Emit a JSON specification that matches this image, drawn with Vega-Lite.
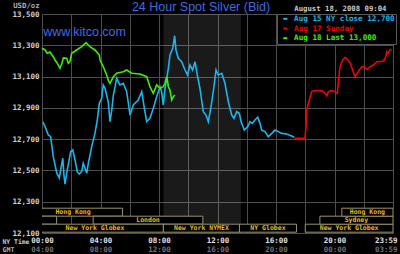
{
  "$schema": "https://vega.github.io/schema/vega-lite/v6.json",
  "width": 351,
  "height": 219,
  "autosize": {"type": "none"},
  "padding": {"left": 42, "top": 14, "right": 7, "bottom": 21},
  "background": "#000000",
  "config": {"view": {"stroke": null}},
  "title": {
    "text": "24 Hour Spot Silver (Bid)",
    "frame": "group",
    "anchor": "middle",
    "orient": "top",
    "offset": -22,
    "baseline": "alphabetic",
    "dx": -16.5,
    "font": "Liberation Sans",
    "fontSize": 12.5,
    "fontWeight": "normal",
    "color": "#4169e1"
  },
  "datasets": {
    "floor": [{"name": "NYMEX floor", "start": 8.3, "end": 13.6}],
    "sessions": [
      {"market": "Hong Kong", "start": -1.26, "end": 5.5, "lane": 2},
      {"market": "Sydney", "start": -3, "end": 1, "lane": 1},
      {"market": "London", "start": 3.5, "end": 11, "lane": 1},
      {"market": "New York Globex", "start": -1.06, "end": 8.3, "lane": 0},
      {"market": "New York NYMEX", "start": 8.3, "end": 13.5, "lane": 0},
      {"market": "NY Globex", "start": 13.5, "end": 17.4, "lane": 0},
      {"market": "New York Globex", "start": 18, "end": 24, "lane": 0},
      {"market": "Sydney", "start": 19, "end": 24, "lane": 1},
      {"market": "Hong Kong", "start": 20.5, "end": 24, "lane": 2}
    ],
    "notes": [{"note": "www.kitco.com", "h": 0.09, "v": 13361}],
    "prices": [
      {"s": "Aug 15 NY close 12,700", "h": 0.05, "v": 12811},
      {"s": "Aug 15 NY close 12,700", "h": 0.21, "v": 12780},
      {"s": "Aug 15 NY close 12,700", "h": 0.43, "v": 12727},
      {"s": "Aug 15 NY close 12,700", "h": 0.59, "v": 12716},
      {"s": "Aug 15 NY close 12,700", "h": 0.77, "v": 12588},
      {"s": "Aug 15 NY close 12,700", "h": 1.01, "v": 12484},
      {"s": "Aug 15 NY close 12,700", "h": 1.18, "v": 12452},
      {"s": "Aug 15 NY close 12,700", "h": 1.28, "v": 12503},
      {"s": "Aug 15 NY close 12,700", "h": 1.42, "v": 12578},
      {"s": "Aug 15 NY close 12,700", "h": 1.5, "v": 12471},
      {"s": "Aug 15 NY close 12,700", "h": 1.57, "v": 12413},
      {"s": "Aug 15 NY close 12,700", "h": 1.73, "v": 12503},
      {"s": "Aug 15 NY close 12,700", "h": 1.96, "v": 12620},
      {"s": "Aug 15 NY close 12,700", "h": 2.1, "v": 12631},
      {"s": "Aug 15 NY close 12,700", "h": 2.26, "v": 12567},
      {"s": "Aug 15 NY close 12,700", "h": 2.41, "v": 12492},
      {"s": "Aug 15 NY close 12,700", "h": 2.55, "v": 12477},
      {"s": "Aug 15 NY close 12,700", "h": 2.71, "v": 12492},
      {"s": "Aug 15 NY close 12,700", "h": 2.82, "v": 12546},
      {"s": "Aug 15 NY close 12,700", "h": 2.94, "v": 12514},
      {"s": "Aug 15 NY close 12,700", "h": 3.06, "v": 12482},
      {"s": "Aug 15 NY close 12,700", "h": 3.17, "v": 12546},
      {"s": "Aug 15 NY close 12,700", "h": 3.4, "v": 12652},
      {"s": "Aug 15 NY close 12,700", "h": 3.62, "v": 12737},
      {"s": "Aug 15 NY close 12,700", "h": 3.78, "v": 12822},
      {"s": "Aug 15 NY close 12,700", "h": 3.92, "v": 12929},
      {"s": "Aug 15 NY close 12,700", "h": 4.08, "v": 12961},
      {"s": "Aug 15 NY close 12,700", "h": 4.19, "v": 13046},
      {"s": "Aug 15 NY close 12,700", "h": 4.31, "v": 13025},
      {"s": "Aug 15 NY close 12,700", "h": 4.53, "v": 12939},
      {"s": "Aug 15 NY close 12,700", "h": 4.65, "v": 12812},
      {"s": "Aug 15 NY close 12,700", "h": 4.77, "v": 12886},
      {"s": "Aug 15 NY close 12,700", "h": 4.88, "v": 12982},
      {"s": "Aug 15 NY close 12,700", "h": 5.11, "v": 13089},
      {"s": "Aug 15 NY close 12,700", "h": 5.33, "v": 13046},
      {"s": "Aug 15 NY close 12,700", "h": 5.56, "v": 13057},
      {"s": "Aug 15 NY close 12,700", "h": 5.79, "v": 13003},
      {"s": "Aug 15 NY close 12,700", "h": 6.02, "v": 12854},
      {"s": "Aug 15 NY close 12,700", "h": 6.24, "v": 12918},
      {"s": "Aug 15 NY close 12,700", "h": 6.58, "v": 12950},
      {"s": "Aug 15 NY close 12,700", "h": 6.82, "v": 13003},
      {"s": "Aug 15 NY close 12,700", "h": 7.0, "v": 12897},
      {"s": "Aug 15 NY close 12,700", "h": 7.16, "v": 12812},
      {"s": "Aug 15 NY close 12,700", "h": 7.38, "v": 12833},
      {"s": "Aug 15 NY close 12,700", "h": 7.61, "v": 12897},
      {"s": "Aug 15 NY close 12,700", "h": 7.84, "v": 12971},
      {"s": "Aug 15 NY close 12,700", "h": 8.07, "v": 13035},
      {"s": "Aug 15 NY close 12,700", "h": 8.18, "v": 13003},
      {"s": "Aug 15 NY close 12,700", "h": 8.29, "v": 12918},
      {"s": "Aug 15 NY close 12,700", "h": 8.41, "v": 13025},
      {"s": "Aug 15 NY close 12,700", "h": 8.53, "v": 13089},
      {"s": "Aug 15 NY close 12,700", "h": 8.64, "v": 13153},
      {"s": "Aug 15 NY close 12,700", "h": 8.75, "v": 13238},
      {"s": "Aug 15 NY close 12,700", "h": 8.94, "v": 13281},
      {"s": "Aug 15 NY close 12,700", "h": 9.07, "v": 13361},
      {"s": "Aug 15 NY close 12,700", "h": 9.16, "v": 13270},
      {"s": "Aug 15 NY close 12,700", "h": 9.32, "v": 13217},
      {"s": "Aug 15 NY close 12,700", "h": 9.55, "v": 13195},
      {"s": "Aug 15 NY close 12,700", "h": 9.78, "v": 13142},
      {"s": "Aug 15 NY close 12,700", "h": 9.94, "v": 13110},
      {"s": "Aug 15 NY close 12,700", "h": 10.12, "v": 13174},
      {"s": "Aug 15 NY close 12,700", "h": 10.3, "v": 13142},
      {"s": "Aug 15 NY close 12,700", "h": 10.46, "v": 13195},
      {"s": "Aug 15 NY close 12,700", "h": 10.62, "v": 13110},
      {"s": "Aug 15 NY close 12,700", "h": 10.8, "v": 13025},
      {"s": "Aug 15 NY close 12,700", "h": 11.03, "v": 12875},
      {"s": "Aug 15 NY close 12,700", "h": 11.21, "v": 12854},
      {"s": "Aug 15 NY close 12,700", "h": 11.37, "v": 12812},
      {"s": "Aug 15 NY close 12,700", "h": 11.54, "v": 12897},
      {"s": "Aug 15 NY close 12,700", "h": 11.71, "v": 13003},
      {"s": "Aug 15 NY close 12,700", "h": 11.9, "v": 13142},
      {"s": "Aug 15 NY close 12,700", "h": 12.05, "v": 13110},
      {"s": "Aug 15 NY close 12,700", "h": 12.29, "v": 13121},
      {"s": "Aug 15 NY close 12,700", "h": 12.51, "v": 13057},
      {"s": "Aug 15 NY close 12,700", "h": 12.74, "v": 12939},
      {"s": "Aug 15 NY close 12,700", "h": 12.97, "v": 12854},
      {"s": "Aug 15 NY close 12,700", "h": 13.13, "v": 12833},
      {"s": "Aug 15 NY close 12,700", "h": 13.31, "v": 12875},
      {"s": "Aug 15 NY close 12,700", "h": 13.49, "v": 12865},
      {"s": "Aug 15 NY close 12,700", "h": 13.61, "v": 12812},
      {"s": "Aug 15 NY close 12,700", "h": 13.83, "v": 12758},
      {"s": "Aug 15 NY close 12,700", "h": 14.07, "v": 12780},
      {"s": "Aug 15 NY close 12,700", "h": 14.22, "v": 12812},
      {"s": "Aug 15 NY close 12,700", "h": 14.38, "v": 12801},
      {"s": "Aug 15 NY close 12,700", "h": 14.56, "v": 12822},
      {"s": "Aug 15 NY close 12,700", "h": 14.75, "v": 12840},
      {"s": "Aug 15 NY close 12,700", "h": 14.91, "v": 12801},
      {"s": "Aug 15 NY close 12,700", "h": 15.02, "v": 12758},
      {"s": "Aug 15 NY close 12,700", "h": 15.25, "v": 12748},
      {"s": "Aug 15 NY close 12,700", "h": 15.47, "v": 12716},
      {"s": "Aug 15 NY close 12,700", "h": 15.71, "v": 12737},
      {"s": "Aug 15 NY close 12,700", "h": 15.93, "v": 12758},
      {"s": "Aug 15 NY close 12,700", "h": 16.16, "v": 12748},
      {"s": "Aug 15 NY close 12,700", "h": 16.39, "v": 12737},
      {"s": "Aug 15 NY close 12,700", "h": 16.73, "v": 12733},
      {"s": "Aug 15 NY close 12,700", "h": 17.07, "v": 12720},
      {"s": "Aug 15 NY close 12,700", "h": 17.25, "v": 12712},
      {"s": "Aug 17 Sunday", "h": 17.25, "v": 12705},
      {"s": "Aug 17 Sunday", "h": 17.98, "v": 12705},
      {"s": "Aug 17 Sunday", "h": 18.05, "v": 12780},
      {"s": "Aug 17 Sunday", "h": 18.1, "v": 12886},
      {"s": "Aug 17 Sunday", "h": 18.28, "v": 12950},
      {"s": "Aug 17 Sunday", "h": 18.44, "v": 13003},
      {"s": "Aug 17 Sunday", "h": 18.67, "v": 13010},
      {"s": "Aug 17 Sunday", "h": 19.12, "v": 13010},
      {"s": "Aug 17 Sunday", "h": 19.35, "v": 12993},
      {"s": "Aug 17 Sunday", "h": 19.47, "v": 12976},
      {"s": "Aug 17 Sunday", "h": 19.58, "v": 13003},
      {"s": "Aug 17 Sunday", "h": 19.81, "v": 13010},
      {"s": "Aug 17 Sunday", "h": 20.03, "v": 13003},
      {"s": "Aug 17 Sunday", "h": 20.19, "v": 12993},
      {"s": "Aug 17 Sunday", "h": 20.29, "v": 13089},
      {"s": "Aug 17 Sunday", "h": 20.38, "v": 13163},
      {"s": "Aug 17 Sunday", "h": 20.56, "v": 13206},
      {"s": "Aug 17 Sunday", "h": 20.72, "v": 13223},
      {"s": "Aug 17 Sunday", "h": 20.88, "v": 13210},
      {"s": "Aug 17 Sunday", "h": 21.06, "v": 13189},
      {"s": "Aug 17 Sunday", "h": 21.24, "v": 13142},
      {"s": "Aug 17 Sunday", "h": 21.4, "v": 13099},
      {"s": "Aug 17 Sunday", "h": 21.52, "v": 13117},
      {"s": "Aug 17 Sunday", "h": 21.7, "v": 13142},
      {"s": "Aug 17 Sunday", "h": 21.86, "v": 13163},
      {"s": "Aug 17 Sunday", "h": 22.02, "v": 13163},
      {"s": "Aug 17 Sunday", "h": 22.2, "v": 13146},
      {"s": "Aug 17 Sunday", "h": 22.43, "v": 13163},
      {"s": "Aug 17 Sunday", "h": 22.65, "v": 13174},
      {"s": "Aug 17 Sunday", "h": 22.89, "v": 13195},
      {"s": "Aug 17 Sunday", "h": 23.16, "v": 13195},
      {"s": "Aug 17 Sunday", "h": 23.38, "v": 13202},
      {"s": "Aug 17 Sunday", "h": 23.5, "v": 13227},
      {"s": "Aug 17 Sunday", "h": 23.57, "v": 13259},
      {"s": "Aug 17 Sunday", "h": 23.68, "v": 13249},
      {"s": "Aug 17 Sunday", "h": 23.79, "v": 13270},
      {"s": "Aug 17 Sunday", "h": 23.91, "v": 13274},
      {"s": "Aug 18 Last 13,000", "h": 0.0, "v": 13281},
      {"s": "Aug 18 Last 13,000", "h": 0.21, "v": 13270},
      {"s": "Aug 18 Last 13,000", "h": 0.36, "v": 13249},
      {"s": "Aug 18 Last 13,000", "h": 0.55, "v": 13257},
      {"s": "Aug 18 Last 13,000", "h": 0.77, "v": 13227},
      {"s": "Aug 18 Last 13,000", "h": 0.89, "v": 13206},
      {"s": "Aug 18 Last 13,000", "h": 1.03, "v": 13187},
      {"s": "Aug 18 Last 13,000", "h": 1.23, "v": 13153},
      {"s": "Aug 18 Last 13,000", "h": 1.35, "v": 13180},
      {"s": "Aug 18 Last 13,000", "h": 1.46, "v": 13219},
      {"s": "Aug 18 Last 13,000", "h": 1.69, "v": 13217},
      {"s": "Aug 18 Last 13,000", "h": 1.8, "v": 13185},
      {"s": "Aug 18 Last 13,000", "h": 1.91, "v": 13195},
      {"s": "Aug 18 Last 13,000", "h": 2.03, "v": 13249},
      {"s": "Aug 18 Last 13,000", "h": 2.37, "v": 13270},
      {"s": "Aug 18 Last 13,000", "h": 2.71, "v": 13291},
      {"s": "Aug 18 Last 13,000", "h": 3.01, "v": 13317},
      {"s": "Aug 18 Last 13,000", "h": 3.28, "v": 13291},
      {"s": "Aug 18 Last 13,000", "h": 3.62, "v": 13270},
      {"s": "Aug 18 Last 13,000", "h": 3.92, "v": 13238},
      {"s": "Aug 18 Last 13,000", "h": 3.97, "v": 13206},
      {"s": "Aug 18 Last 13,000", "h": 4.19, "v": 13163},
      {"s": "Aug 18 Last 13,000", "h": 4.42, "v": 13110},
      {"s": "Aug 18 Last 13,000", "h": 4.55, "v": 13072},
      {"s": "Aug 18 Last 13,000", "h": 4.65, "v": 13057},
      {"s": "Aug 18 Last 13,000", "h": 4.88, "v": 13099},
      {"s": "Aug 18 Last 13,000", "h": 5.11, "v": 13121},
      {"s": "Aug 18 Last 13,000", "h": 5.56, "v": 13131},
      {"s": "Aug 18 Last 13,000", "h": 5.79, "v": 13142},
      {"s": "Aug 18 Last 13,000", "h": 6.13, "v": 13121},
      {"s": "Aug 18 Last 13,000", "h": 6.7, "v": 13116},
      {"s": "Aug 18 Last 13,000", "h": 7.16, "v": 13099},
      {"s": "Aug 18 Last 13,000", "h": 7.38, "v": 13035},
      {"s": "Aug 18 Last 13,000", "h": 7.61, "v": 12993},
      {"s": "Aug 18 Last 13,000", "h": 7.84, "v": 13046},
      {"s": "Aug 18 Last 13,000", "h": 8.07, "v": 13025},
      {"s": "Aug 18 Last 13,000", "h": 8.29, "v": 13035},
      {"s": "Aug 18 Last 13,000", "h": 8.41, "v": 13057},
      {"s": "Aug 18 Last 13,000", "h": 8.53, "v": 13099},
      {"s": "Aug 18 Last 13,000", "h": 8.64, "v": 13035},
      {"s": "Aug 18 Last 13,000", "h": 8.75, "v": 13014},
      {"s": "Aug 18 Last 13,000", "h": 8.87, "v": 12950},
      {"s": "Aug 18 Last 13,000", "h": 8.98, "v": 12971},
      {"s": "Aug 18 Last 13,000", "h": 9.09, "v": 12982}
    ]
  },
  "resolve": {
    "scale": {"y": "independent"},
    "axis": {"x": "independent", "y": "independent"}
  },
  "layer": [
    {
      "data": {"name": "floor"},
      "mark": {"type": "rect", "fill": "#ffffff", "fillOpacity": 0.1},
      "encoding": {
        "x": {
          "field": "start",
          "type": "quantitative",
          "scale": {"domain": [0, 24], "nice": false, "zero": false},
          "axis": {
            "orient": "bottom",
            "values": [0, 2, 4, 6, 8, 10, 12, 14, 16, 18, 20, 22, 24],
            "grid": true,
            "gridColor": "#4d4d4d",
            "gridWidth": 1,
            "domain": false,
            "ticks": false,
            "labelExpr": "datum.value % 4 != 0 ? '' : datum.value == 24 ? '23:59' : (datum.value < 10 ? '0' : '') + datum.value + ':00'",
            "labelFont": "DejaVu Sans Mono",
            "labelFontSize": 7.5,
            "labelFontWeight": "bold",
            "labelColor": "#e0e0e0",
            "labelPadding": 3,
            "labelFlush": false,
            "labelOverlap": false,
            "labelBound": false,
            "labelAlign": {"condition": {"test": "datum.value == 24", "value": "right"}, "value": "center"},
            "labelOffset": {"condition": {"test": "datum.value == 24", "value": 4}, "value": 0},
            "title": "NY Time",
            "titleX": -40,
            "titleY": 10.3,
            "titleAlign": "left",
            "titleAnchor": "start",
            "titleBaseline": "alphabetic",
            "titleFont": "DejaVu Sans Mono",
            "titleFontSize": 6.4,
            "titleFontWeight": "bold",
            "titleColor": "#c8c8c8"
          }
        },
        "x2": {"field": "end"}
      }
    },
    {
      "data": {"name": "sessions"},
      "transform": [{"calculate": "datum.lane + 1", "as": "laneTop"}],
      "mark": {"type": "rect", "fill": "#000000", "stroke": "#9a9468", "strokeWidth": 1, "clip": true},
      "encoding": {
        "x": {
          "field": "start",
          "type": "quantitative",
          "scale": {"domain": [0, 24], "nice": false, "zero": false},
          "axis": {
            "orient": "bottom",
            "offset": 9,
            "values": [0, 4, 8, 12, 16, 20, 24],
            "grid": false,
            "domain": false,
            "ticks": false,
            "labelExpr": "datum.value == 24 ? '03:59' : (((datum.value + 4) % 24) < 10 ? '0' : '') + ((datum.value + 4) % 24) + ':00'",
            "labelFont": "DejaVu Sans Mono",
            "labelFontSize": 7.5,
            "labelFontWeight": "bold",
            "labelColor": "#707070",
            "labelPadding": 3.5,
            "labelFlush": false,
            "labelOverlap": false,
            "labelBound": false,
            "labelAlign": {"condition": {"test": "datum.value == 24", "value": "right"}, "value": "center"},
            "labelOffset": {"condition": {"test": "datum.value == 24", "value": 4}, "value": 0},
            "title": "GMT",
            "titleX": -40,
            "titleY": 9.7,
            "titleAlign": "left",
            "titleAnchor": "start",
            "titleBaseline": "alphabetic",
            "titleFont": "DejaVu Sans Mono",
            "titleFontSize": 6.6,
            "titleFontWeight": "bold",
            "titleColor": "#b0b0b0"
          }
        },
        "x2": {"field": "end"},
        "y": {
          "field": "lane",
          "type": "quantitative",
          "scale": {"domain": [-0.1, 27.275], "nice": false, "zero": false},
          "axis": null
        },
        "y2": {"field": "laneTop"}
      }
    },
    {
      "data": {"name": "sessions"},
      "transform": [
        {"calculate": "(datum.start + datum.end) / 2", "as": "mid"},
        {"calculate": "datum.lane + 0.5", "as": "laneMid"}
      ],
      "mark": {
        "type": "text",
        "font": "DejaVu Sans Mono",
        "fontSize": 6.5,
        "fontWeight": "bold",
        "fill": "#e8b820",
        "align": "center",
        "baseline": "middle",
        "clip": true
      },
      "encoding": {
        "x": {
          "field": "mid",
          "type": "quantitative",
          "scale": {"domain": [0, 24], "nice": false, "zero": false},
          "axis": null
        },
        "y": {
          "field": "laneMid",
          "type": "quantitative",
          "scale": {"domain": [-0.1, 27.275], "nice": false, "zero": false},
          "axis": null
        },
        "text": {"field": "market"}
      }
    },
    {
      "data": {"name": "prices"},
      "mark": {"type": "line", "strokeWidth": 1.6},
      "encoding": {
        "x": {
          "field": "h",
          "type": "quantitative",
          "scale": {"domain": [0, 24], "nice": false, "zero": false},
          "axis": {
            "orient": "top",
            "labels": false,
            "ticks": false,
            "domain": false,
            "grid": false,
            "title": "August 18, 2008 09:04",
            "titleX": 344,
            "titleY": -3.3,
            "titleAlign": "right",
            "titleAnchor": "end",
            "titleBaseline": "alphabetic",
            "titleFont": "DejaVu Sans Mono",
            "titleFontSize": 7.3,
            "titleFontWeight": "bold",
            "titleColor": "#c8c8c8"
          }
        },
        "y": {
          "field": "v",
          "type": "quantitative",
          "scale": {"domain": [12100, 13500], "nice": false, "zero": false},
          "axis": {
            "values": [12100, 12300, 12500, 12700, 12900, 13100, 13300, 13500],
            "format": ",d",
            "grid": true,
            "gridColor": "#4d4d4d",
            "gridWidth": 1,
            "domain": false,
            "ticks": false,
            "labelFont": "DejaVu Sans Mono",
            "labelFontSize": 7.5,
            "labelFontWeight": "bold",
            "labelColor": "#d0d0d0",
            "labelPadding": 3,
            "labelBaseline": "middle",
            "labelFlush": false,
            "labelOverlap": false,
            "labelBound": false,
            "title": "USD/oz",
            "titleAngle": 0,
            "titleX": -29.3,
            "titleY": -6.7,
            "titleAlign": "left",
            "titleAnchor": "start",
            "titleBaseline": "alphabetic",
            "titleFont": "DejaVu Sans Mono",
            "titleFontSize": 7.3,
            "titleFontWeight": "bold",
            "titleColor": "#b0b0b0"
          }
        },
        "color": {
          "field": "s",
          "type": "nominal",
          "scale": {
            "domain": ["Aug 15 NY close 12,700", "Aug 17 Sunday", "Aug 18 Last 13,000"],
            "range": ["#19b5ec", "#f00000", "#3cf000"]
          },
          "legend": {
            "orient": "none",
            "legendX": 235,
            "legendY": 0,
            "title": null,
            "fillColor": "#000000",
            "strokeColor": "#5a5a5a",
            "padding": 1,
            "symbolType": "stroke",
            "symbolSize": 16,
            "symbolStrokeWidth": 2,
            "symbolOffset": 3.5,
            "labelOffset": 5,
            "labelFont": "DejaVu Sans Mono",
            "labelFontSize": 7.6,
            "labelFontWeight": "bold",
            "labelLimit": 300,
            "rowPadding": 0.7,
            "encode": {"labels": {"update": {"fill": {"scale": "color", "field": "value"}}}}
          }
        }
      }
    },
    {
      "data": {"name": "notes"},
      "mark": {
        "type": "text",
        "font": "Liberation Sans",
        "fontSize": 12.5,
        "fill": "#4169e1",
        "align": "left",
        "baseline": "alphabetic"
      },
      "encoding": {
        "x": {
          "field": "h",
          "type": "quantitative",
          "scale": {"domain": [0, 24], "nice": false, "zero": false},
          "axis": null
        },
        "y": {
          "field": "v",
          "type": "quantitative",
          "scale": {"domain": [12100, 13500], "nice": false, "zero": false},
          "axis": null
        },
        "text": {"field": "note"}
      }
    }
  ]
}
